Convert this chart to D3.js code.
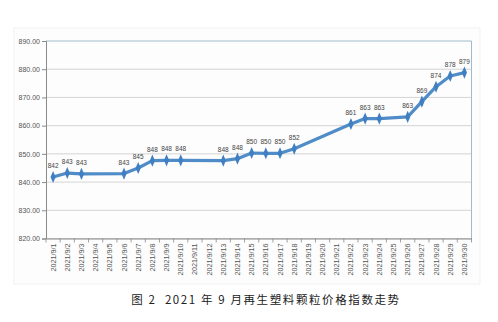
<!DOCTYPE html>
<html><head><meta charset="utf-8">
<script src="https://cdn.jsdelivr.net/npm/d3@7"></script>
<style>body{margin:0;background:#fff}svg{display:block}</style>
</head><body>
<svg id="c" width="498" height="322"></svg>
<script>
const days = d3.range(1,31).map(d => "2021/9/" + d);
const dataDays = [1,2,3,6,7,8,9,10,13,14,15,16,17,18,22,23,24,26,27,28,29,30];
const values = [841.8,843.2,842.9,843,845,847.6,847.7,847.7,847.6,848.3,850.3,850.2,850.2,851.8,860.6,862.5,862.5,863.1,868.5,873.8,877.6,878.8];
const labels = ["842","843","843","843","845","848","848","848","848","848","850","850","850","852","861","863","863","863","869","874","878","879"];
const yTicks = [820,830,840,850,860,870,880,890];

const svg = d3.select("#c");
const L=46,R=471.5,T=41,B=238.5;
// faint outer frame
svg.append("rect").attr("x",14).attr("y",28).attr("width",466).attr("height",256).attr("fill","#fdfdfd").attr("stroke","#f1f1f1");

const x = d3.scaleBand().domain(days).range([L,R]);
const y = d3.scaleLinear().domain([820,890]).range([B,T]);

// gridlines
svg.append("g").selectAll("line").data(yTicks.filter(v=>v<890)).join("line")
  .attr("x1",L).attr("x2",R).attr("y1",d=>y(d)).attr("y2",d=>y(d))
  .attr("stroke","#c9c9c9").attr("stroke-width",0.8);
// top/right frame
svg.append("path").attr("d",`M${L},${T}H${R}V${B}`).attr("fill","none").attr("stroke","#9fbccb").attr("stroke-width",1);

// y axis
const ya = svg.append("g").attr("transform",`translate(${L},0)`)
  .call(d3.axisLeft(y).tickValues(yTicks).tickFormat(d3.format(".2f")).tickSize(4).tickPadding(2));
ya.select(".domain").attr("stroke","#8a8a8a");
ya.selectAll(".tick line").attr("stroke","#8a8a8a");
ya.selectAll("text").attr("font-family","Liberation Sans, Arial").attr("font-size","7px").attr("fill","#555");

// x axis
const xa = svg.append("g").attr("transform",`translate(0,${B})`)
  .call(d3.axisBottom(x).tickSize(0));
xa.select(".domain").attr("stroke","#8a8a8a");
xa.selectAll(".tick line").remove();
xa.selectAll(".tick text").attr("transform","rotate(-90)").attr("text-anchor","end")
  .attr("x",-5).attr("y",0).attr("dy","0.35em")
  .attr("font-family","Liberation Sans, Arial").attr("font-size","7.2px").attr("fill","#555");
// boundary ticks
xa.append("g").selectAll("line").data(d3.range(0,31)).join("line")
  .attr("x1",i=>L+i*x.step()).attr("x2",i=>L+i*x.step()).attr("y1",0).attr("y2",4)
  .attr("stroke","#8a8a8a").attr("stroke-width",0.8);

const pts = dataDays.map((d,i)=>({x:x(days[d-1])+x.bandwidth()/2,y:y(values[i]),l:labels[i]}));
svg.append("path").datum(pts)
  .attr("d",d3.line().x(d=>d.x).y(d=>d.y))
  .attr("fill","none").attr("stroke","#4f8cc8").attr("stroke-width",3.2).attr("stroke-linejoin","round");
svg.append("g").selectAll("path").data(pts).join("path")
  .attr("d",d3.symbol(d3.symbolDiamond,32)())
  .attr("transform",d=>`translate(${d.x},${d.y}) scale(0.85,1.15)`)
  .attr("fill","#3f7fc2");
svg.append("g").selectAll("text").data(pts).join("text")
  .attr("x",d=>d.x).attr("y",d=>d.y-9).attr("text-anchor","middle")
  .attr("font-family","Liberation Sans, Arial").attr("font-size","6.5px").attr("fill","#444")
  .text(d=>d.l);

svg.append("text").attr("x",266).attr("y",304).attr("text-anchor","middle")
  .attr("font-family","Noto Sans CJK SC").attr("font-size","11.5px").attr("fill","#222")
  .attr("letter-spacing","1.6px")
  .attr("xml:space","preserve")
  .text("图 2  2021 年 9 月再生塑料颗粒价格指数走势");
</script>
</body></html>
